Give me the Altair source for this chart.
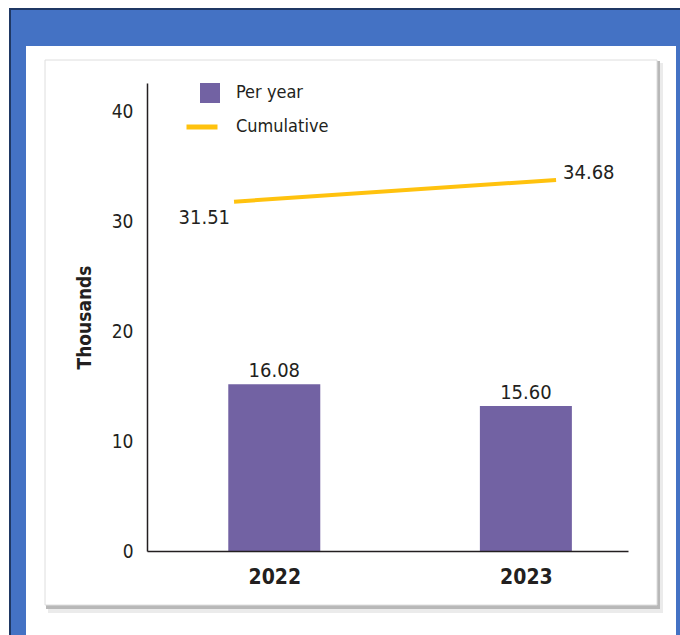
import altair as alt
import pandas as pd

# ---- data ----
years = [2022, 2023]
per_year = [15.2, 13.2]              # bar heights as drawn (thousands)
per_year_labels = ["16.08", "15.60"]
cum_years = [2021.84, 2023.12]        # where the cumulative line is drawn
cumulative = [31.83, 33.80]
cum_labels = ["31.51", "34.68"]
y_ticks = [0, 10, 20, 30, 40]
series_bar = "Per year"
series_line = "Cumulative"

PURPLE = "#7262A3"
GOLD = "#FFC20E"
TXT = "#231F20"
FONT = "DejaVu Sans Condensed, sans-serif"

W, H = 481, 468

df_bar = pd.DataFrame({"year": years, "value": per_year,
                       "label": per_year_labels, "series": series_bar})
df_line = pd.DataFrame({"year": cum_years, "value": cumulative,
                        "label": cum_labels, "series": series_line,
                        "idx": list(range(len(cum_years)))})

xscale = alt.Scale(domain=[2021.514, 2023.386], nice=False, zero=False)
yscale = alt.Scale(domain=[0, 42.64], nice=False)

xaxis = alt.Axis(values=years, format="d", title=None, ticks=False, grid=False,
                 labelFontSize=21, labelFontWeight=600, labelPadding=15,
                 labelColor=TXT, labelFont=FONT, domainColor="#231F20",
                 domainWidth=1.5, zindex=2)
yaxis = alt.Axis(values=y_ticks, title="Thousands", ticks=False, grid=False,
                 labelFontSize=19, labelPadding=14, labelColor=TXT,
                 labelFont=FONT, titleFont=FONT, titleFontSize=19,
                 titleFontWeight="bold", titleColor=TXT, titlePadding=17,
                 domainColor="#231F20", domainWidth=1.5, zindex=2)

one = pd.DataFrame({"a": [0]})


def deco(x, x2, y, y2, **kw):
    return alt.Chart(one).mark_rect(**kw).encode(
        x=alt.value(x), x2=alt.value(x2), y=alt.value(y), y2=alt.value(y2))


frame = deco(-137, 545, -74, 570, fill="#4472C4", stroke="#1F3864", strokeWidth=2)
panel = deco(-121, 529, -37, 570, fill="white")
sh1 = deco(-99, 516, -20, 530, fill="#ebebeb")
sh2 = deco(-101, 513, -22, 526, fill="#b8b8b8")
card = deco(-102, 510, -23, 522, fill="white", stroke="#dedede", strokeWidth=1)

bars = alt.Chart(df_bar).mark_bar(width=92).encode(
    x=alt.X("year:Q", scale=xscale, axis=xaxis),
    y=alt.Y("value:Q", scale=yscale, axis=yaxis),
    color=alt.Color("series:N",
                    scale=alt.Scale(domain=[series_bar], range=[PURPLE]),
                    legend=alt.Legend(title=None, orient="none", legendX=52,
                                      legendY=-1, symbolType="square",
                                      symbolSize=400, labelFontSize=18,
                                      labelFont=FONT, labelColor=TXT,
                                      labelOffset=15, padding=0, zindex=2)),
)

bar_text = alt.Chart(df_bar).mark_text(
    dy=-7, baseline="alphabetic", fontSize=20, font=FONT, color=TXT
).encode(x=alt.X("year:Q", scale=xscale), y=alt.Y("value:Q", scale=yscale),
         text="label:N")

line = alt.Chart(df_line).mark_line(strokeWidth=4, strokeCap="butt").encode(
    x=alt.X("year:Q", scale=xscale),
    y=alt.Y("value:Q", scale=yscale),
    stroke=alt.Stroke("series:N",
                      scale=alt.Scale(domain=[series_line], range=[GOLD]),
                      legend=alt.Legend(title=None, orient="none", legendX=37,
                                        legendY=26, symbolType="stroke",
                                        symbolSize=961, symbolStrokeWidth=5,
                                        labelFontSize=18, labelFont=FONT,
                                        labelColor=TXT, labelOffset=16,
                                        padding=0, zindex=2)),
)

lab0 = alt.Chart(df_line).transform_filter("datum.idx == 0").mark_text(
    align="right", baseline="middle", dx=-4, dy=16, fontSize=20, font=FONT,
    color=TXT
).encode(x=alt.X("year:Q", scale=xscale), y=alt.Y("value:Q", scale=yscale),
         text="label:N")
lab1 = alt.Chart(df_line).transform_filter("datum.idx == 1").mark_text(
    align="left", baseline="middle", dx=7, dy=-7, fontSize=20, font=FONT,
    color=TXT
).encode(x=alt.X("year:Q", scale=xscale), y=alt.Y("value:Q", scale=yscale),
         text="label:N")

chart = alt.layer(frame, panel, sh1, sh2, card, bars, bar_text, line, lab0, lab1
).resolve_scale(color="independent", stroke="independent").properties(
    width=W, height=H,
    autosize=alt.AutoSizeParams(type="none"),
    padding={"left": 147, "top": 83, "right": 52, "bottom": 84},
).configure_view(stroke=None).configure(background="white")

chart.save("out.html", embed_options={"renderer": "svg", "actions": False})
